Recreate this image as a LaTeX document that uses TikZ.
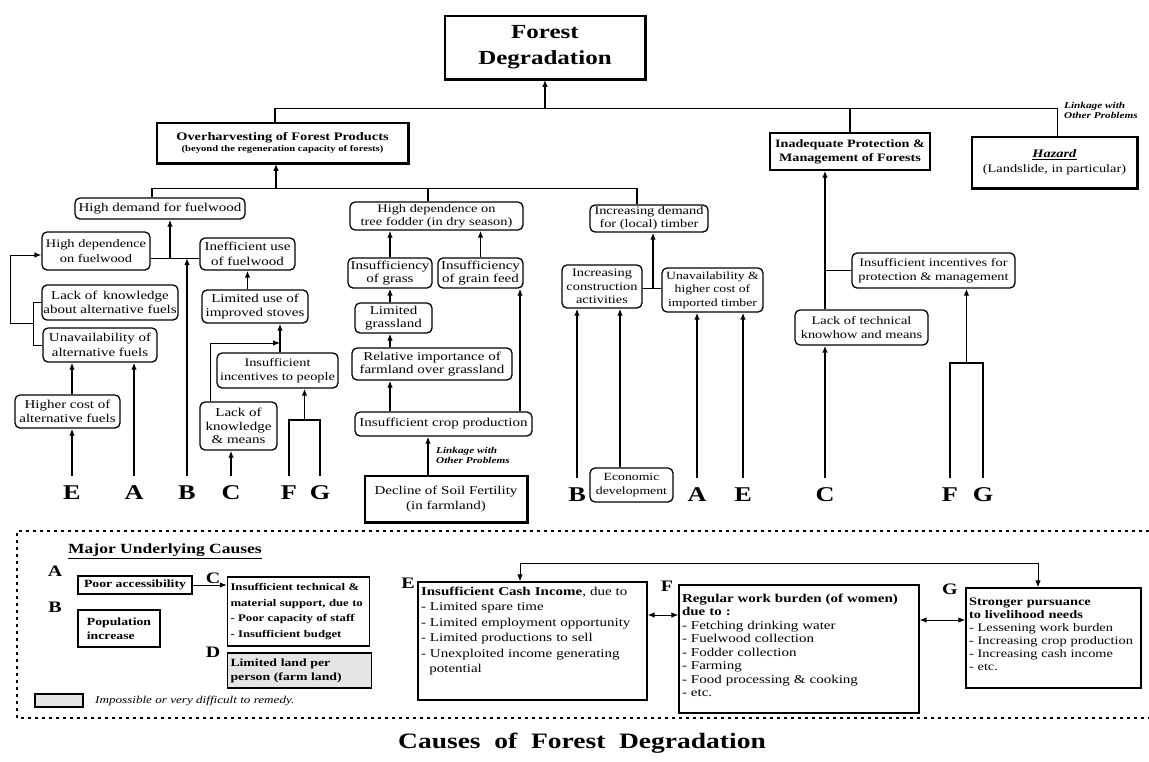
\documentclass[tikz,border=0pt]{standalone}
\usepackage{fontspec}
\setmainfont{Liberation Serif}[FakeStretch=1.25]
\usetikzlibrary{arrows.meta}
\begin{document}
\begin{tikzpicture}[x=1pt,y=-1pt,
  wh/.style 2 args={minimum width=#1pt,minimum height=#2pt},
  rbox/.style={draw,rounded corners=5pt,line width=1.3pt,align=center,inner sep=0.5pt,
    font=\fontsize{12}{14.5}\selectfont},
  sbox/.style={draw,line width=1.4pt,align=center,inner sep=0.5pt},
  shad/.style={line width=3pt},
  vline/.style={line width=1.8pt},
  hline/.style={line width=0.9pt},
  arr/.style={line width=1.8pt,-{Latex[length=7pt,width=5.5pt]}},
  larr/.style={arr,shorten <=10pt},
  harr/.style={line width=1pt,-{Latex[length=7pt,width=5.5pt]}},
  dharr/.style={line width=1pt,{Latex[length=7pt,width=5.5pt]}-{Latex[length=7pt,width=5.5pt]}},
  letter/.style={font=\fontsize{21}{21}\selectfont\bfseries,inner sep=0pt},
  bletter/.style={font=\fontsize{16}{16}\selectfont\bfseries,inner sep=0pt},
  link/.style={font=\fontsize{9}{10}\selectfont\bfseries\itshape,align=left,inner sep=0pt,anchor=north west},
  dotline/.style={line width=1.5pt,dash pattern=on 3pt off 4pt},
  bbox/.style={draw,line width=1.3pt,align=left,inner xsep=3pt,inner ysep=2pt},
]
\useasboundingbox (0,0) rectangle (1149,761);

% ---------- top level ----------
\node[sbox,wh={200}{63},line width=1.6pt,font=\fontsize{20}{26}\selectfont\bfseries] (fd) at (545,47.5) {Forest\\Degradation};
\draw[shad] (fd.south west) -- (fd.south east) -- (fd.north east);

\node[sbox,wh={251}{40},line width=1.5pt] (oh) at (282.5,143)
  {{\fontsize{11.5}{13}\selectfont\bfseries Overharvesting of Forest Products}\\[-1pt]{\fontsize{8.5}{9}\selectfont\bfseries (beyond the regeneration capacity of forests)}};
\draw[line width=2.4pt] (oh.south west) -- (oh.south east) -- (oh.north east);

\node[sbox,wh={160}{37},font=\fontsize{11.3}{14}\selectfont\bfseries] (ip) at (850,151.5) {Inadequate Protection \&\\Management of Forests};

\node[sbox,wh={165}{51},font=\fontsize{11.5}{15}\selectfont] (hz) at (1054.5,162.5) {\underline{\textbf{\textit{Hazard}}}\\(Landslide, in particular)};
\draw[shad] (hz.south west) -- (hz.south east) -- (hz.north east);
\node[link] (lk1) at (1064,102) {Linkage with\\Other Problems};

% bus 1
\coordinate (b1L) at (275,108);
\coordinate (b1R) at (1057,108);
\coordinate (b1fd) at (545,108);
\coordinate (b1ip) at (850,108);
\draw[vline] (b1L |- oh.north) -- (b1L);
\draw[hline] (b1L) -- (b1R) -- (b1R |- hz.north);
\draw[arr] (b1fd) -- (fd.south);
\draw[vline] (b1ip) -- (ip.north);

% ---------- left cluster ----------
\node[rbox,wh={170}{21}] (hdf) at (160,208.5) {High demand for fuelwood};
\node[rbox,wh={108}{38},font=\fontsize{11.5}{14.5}\selectfont] (hdep) at (96,251) {High dependence\\on fuelwood};
\node[rbox,wh={95}{32}] (ineff) at (247.5,254) {Inefficient use\\of fuelwood};
\node[rbox,wh={136}{35}] (lk) at (110,302.5) {Lack of\, knowledge\\about alternative fuels};
\node[rbox,wh={114}{34}] (ua) at (100,345) {Unavailability of\\alternative fuels};
\node[rbox,wh={106}{33}] (lu) at (255,306.5) {Limited use of\\improved stoves};
\node[rbox,wh={121}{35},font=\fontsize{11.5}{14.5}\selectfont] (ii) at (277.5,370.5) {Insufficient\\incentives to people};
\node[rbox,wh={105}{33}] (hc) at (67.5,411.5) {Higher cost of\\alternative fuels};
\node[rbox,wh={77}{48},font=\fontsize{12}{13.5}\selectfont] (lkm) at (238.5,426) {Lack of\\knowledge\\\& means};

% ---------- middle cluster ----------
\node[rbox,wh={173}{28},font=\fontsize{11.5}{13}\selectfont] (tf) at (436.5,216) {High dependence on\\tree fodder (in dry season)};
\node[rbox,wh={84}{30},font=\fontsize{12}{13}\selectfont] (ig) at (390,273) {Insufficiency\\of grass};
\node[rbox,wh={85}{30},font=\fontsize{12}{13}\selectfont] (igf) at (480.5,273) {Insufficiency\\of grain feed};
\node[rbox,wh={77}{30},font=\fontsize{12}{13}\selectfont] (lg) at (393.5,318) {Limited\\grassland};
\node[rbox,wh={160}{32},font=\fontsize{12}{13.5}\selectfont] (ri) at (432,364) {Relative importance of\\farmland over grassland};
\node[rbox,wh={177}{24}] (icp) at (443.5,424) {Insufficient crop production};
\node[sbox,wh={162}{46},line width=1.5pt,font=\fontsize{12}{15}\selectfont] (dsf) at (446,499) {Decline of Soil Fertility\\(in farmland)};
\draw[line width=2.6pt] (dsf.south west) -- (dsf.south east) -- (dsf.north east);

% ---------- timber cluster ----------
\node[rbox,wh={118}{27},font=\fontsize{11.5}{13}\selectfont] (idt) at (649,218.5) {Increasing demand\\for (local) timber};
\node[rbox,wh={80}{43},font=\fontsize{11.5}{13.5}\selectfont] (ica) at (602,286.5) {Increasing\\construction\\activities};
\node[rbox,wh={101}{44},font=\fontsize{11}{13.5}\selectfont] (uht) at (712.5,290) {Unavailability \&\\higher cost of\\imported timber};
\node[rbox,wh={83}{34},font=\fontsize{11}{14}\selectfont] (ed) at (631.5,485) {Economic\\development};

% bus 2
\coordinate (b2L) at (152,188);
\coordinate (b2R) at (637,188);
\coordinate (b2oh) at (276,188);
\coordinate (b2tf) at (428,188);
\draw[hline] (b2L) -- (b2R);
\draw[arr] (b2oh) -- (b2oh |- oh.south);
\draw[vline] (b2L) -- (b2L |- hdf.north);
\draw[vline] (b2tf) -- (b2tf |- tf.north);
\draw[vline] (b2R) -- (b2R |- idt.north);

% junction under high demand
\coordinate (j1) at (170,258);
\draw[hline] (hdep.east |- j1) -- (ineff.west |- j1);
\draw[arr] (j1) -- (j1 |- hdf.south);

% bracket & loop to high dependence
\coordinate (brk) at (33,323);
\coordinate (lp) at (10,255);
\draw[hline] (lk.west) -- (lk.west -| brk) -- (ua.west -| brk) -- (ua.west);
\draw[harr] (brk) -- (brk -| lp) -- (lp) -- (lp -| hdep.west);

\coordinate (ex) at (72,400);
\draw[arr] (ex |- hc.north) -- (ex |- ua.south);
\draw[arr] (ineff.south |- lu.north) -- (ineff.south);
\coordinate (iiup) at (280,370);
\draw[arr] (iiup |- ii.north) -- (iiup |- lu.south);
\coordinate (lkmx) at (210,343);
\draw[harr] (lkmx |- lkm.north) -- (lkmx) -- (iiup |- lkmx);

% letters left
\node[letter] (lE1) at (72,493) {E};
\node[letter] (lA1) at (134,493) {A};
\node[letter] (lB1) at (187,493) {B};
\node[letter] (lC1) at (231,493) {C};
\node[letter] (lF1) at (289,493) {F};
\node[letter] (lG1) at (320,493) {G};
\draw[larr] (lE1.north) -- (lE1.north |- hc.south);
\draw[larr] (lA1.north) -- (lA1.north |- ua.south);
\draw[larr] (lB1.north) -- (lB1.north |- j1);
\draw[larr] (lC1.north) -- (lC1.north |- lkm.south);
\coordinate (fg1) at (304.5,420);
\draw[vline,shorten <=10pt,shorten >=10pt] (lF1.north) -- (lF1.north |- fg1) -- (lG1.north |- fg1) -- (lG1.north);
\draw[arr] (fg1) -- (fg1 |- ii.south);

% middle connectors
\draw[arr] (ig.north) -- (ig.north |- tf.south);
\draw[arr] (igf.north) -- (igf.north |- tf.south);
\draw[arr] (ig.south |- lg.north) -- (ig.south);
\draw[arr] (ig.south |- ri.north) -- (ig.south |- lg.south);
\draw[arr] (ig.south |- icp.north) -- (ig.south |- ri.south);
\coordinate (cgx) at (520,400);
\draw[arr] (cgx |- icp.north) -- (cgx |- igf.south);
\coordinate (dsx) at (428,450);
\draw[arr] (dsx |- dsf.north) -- (dsx |- icp.south);
\node[link] (lk2) at (436,447) {Linkage with\\Other Problems};

% timber connectors
\coordinate (j2) at (653,288);
\draw[hline] (ica.east |- j2) -- (uht.west |- j2);
\draw[arr] (j2) -- (j2 |- idt.south);
\coordinate (edx) at (620,400);
\draw[arr] (edx |- ed.north) -- (edx |- ica.south);

\node[letter] (lB2) at (577,495) {B};
\node[letter] (lA2) at (697,495) {A};
\node[letter] (lE2) at (743,495) {E};
\draw[larr] (lB2.north) -- (lB2.north |- ica.south);
\draw[larr] (lA2.north) -- (lA2.north |- uht.south);
\draw[larr] (lE2.north) -- (lE2.north |- uht.south);

% ---------- right cluster ----------
\node[rbox,wh={163}{35},font=\fontsize{11.5}{14}\selectfont] (iip) at (933.5,270.5) {Insufficient incentives for\\protection \& management};
\node[rbox,wh={133}{35},font=\fontsize{11.5}{14}\selectfont] (ltk) at (861.5,327.5) {Lack of technical\\knowhow and means};
\coordinate (rv) at (825,230);
\draw[arr] (rv |- ltk.north) -- (rv |- ip.south);
\draw[hline] (iip.west) -- (iip.west -| rv);

\node[letter] (lC3) at (825,495) {C};
\node[letter] (lF3) at (950,495) {F};
\node[letter] (lG3) at (983,495) {G};
\draw[larr] (lC3.north) -- (lC3.north |- ltk.south);
\coordinate (fg3) at (966.5,363);
\draw[vline,shorten <=10pt,shorten >=10pt] (lF3.north) -- (lF3.north |- fg3) -- (lG3.north |- fg3) -- (lG3.north);
\draw[arr] (fg3) -- (fg3 |- iip.south);

% ---------- major underlying causes ----------
\draw[dotline] (1149,531) -- (17,531) -- (17,718) -- (1149,718);
\node[anchor=west,inner sep=0pt,font=\fontsize{14}{14}\selectfont\bfseries] (muc) at (68,551) {\underline{Major Underlying Causes}};

\node[bletter] (bA) at (55,571) {A};
\node[sbox,wh={114}{18},line width=1.6pt,font=\fontsize{11}{12}\selectfont\bfseries] (pa) at (135,585) {Poor accessibility};
\node[bletter] (bB) at (55,607) {B};
\node[sbox,wh={82}{37},align=left,font=\fontsize{11}{14}\selectfont\bfseries] (pop) at (119,628.5) {Population\\increase};
\node[bletter] (bC) at (213,578) {C};
\node[bbox,text width=136pt,minimum height=69pt,font=\fontsize{10.2}{15.5}\selectfont\bfseries] (cb) at (298.5,611.5)
  {Insufficient technical \&\\material support, due to\\- Poor capacity of staff\\- Insufficient budget};
\draw[harr] (pa.east) -- (pa.east -| cb.west);
\node[bletter] (bD) at (213,652) {D};
\node[bbox,text width=138pt,minimum height=35pt,fill=black!10,font=\fontsize{11}{14}\selectfont\bfseries] (db) at (299.5,670.5)
  {Limited land per\\person (farm land)};
\node[draw,line width=1.3pt,fill=black!10,wh={48}{13}] (lgbox) at (59,700.5) {};
\node[anchor=west,inner sep=0pt,font=\fontsize{10.5}{11}\selectfont\itshape] (lgtxt) at (95,701) {Impossible or very difficult to remedy.};

\node[bletter] (bE) at (408,583) {E};
\node[bbox,text width=223pt,minimum height=118pt,font=\fontsize{12}{15.5}\selectfont] (Eb) at (532.5,641)
  {\textbf{Insufficient Cash Income}, due to\\- Limited spare time\\- Limited employment opportunity\\- Limited productions to sell\\- Unexploited income generating\\\hspace*{0.7em}potential\rule[-22pt]{0pt}{0pt}};
\node[bletter] (bF) at (667,586) {F};
\node[bbox,text width=234pt,minimum height=128pt,font=\fontsize{12}{13.5}\selectfont] (Fb) at (799,649)
  {\textbf{Regular work burden (of women)}\\\textbf{due to :}\\- Fetching drinking water\\- Fuelwood collection\\- Fodder collection\\- Farming\\- Food processing \& cooking\\- etc.\rule[-7pt]{0pt}{0pt}};
\node[bletter] (bG) at (950,589) {G};
\node[bbox,text width=169pt,minimum height=100pt,font=\fontsize{11.5}{13}\selectfont] (Gb) at (1053.5,638)
  {\textbf{Stronger pursuance}\\\textbf{to livelihood needs}\\- Lessening work burden\\- Increasing crop production\\- Increasing cash income\\- etc.\rule[-7pt]{0pt}{0pt}};

\coordinate (ef) at (660,615);
\draw[dharr] (Eb.east |- ef) -- (Fb.west |- ef);
\coordinate (fgc) at (940,620);
\draw[dharr] (Fb.east |- fgc) -- (Gb.west |- fgc);
\coordinate (lpE) at (520,563);
\coordinate (lpG) at (1038,563);
\draw[dharr] (lpE |- Eb.north) -- (lpE) -- (lpG) -- (lpG |- Gb.north);

\node[inner sep=0pt,font=\fontsize{22}{22}\selectfont\bfseries] (ttl) at (582,743) {Causes\ \ of\ \ Forest\ \ Degradation};
\end{tikzpicture}
\end{document}
